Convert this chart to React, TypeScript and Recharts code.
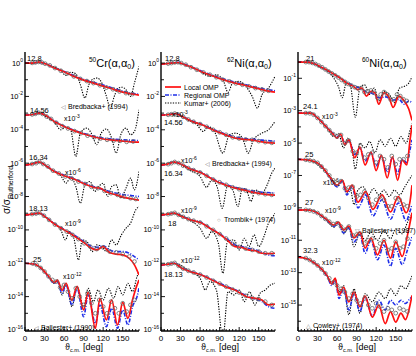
import React from "react";
import { ComposedChart, Line, Scatter, XAxis, YAxis } from "recharts";

const FONT = "'Liberation Sans', Arial, Helvetica, sans-serif";

// angle grid (deg) and decade ticks
const angleTicks = [0, 5, 10, 15, 20, 25, 30, 35, 40, 45, 50, 55, 60, 65, 70, 75, 80, 85, 90, 95, 100, 105, 110, 115, 120, 125, 130, 135, 140, 145, 150, 155, 160, 165, 170, 175];
const decadeTicks = [1e-16, 1e-15, 1e-14, 1e-13, 1e-12, 1e-11, 1e-10, 1e-9, 1e-8, 1e-7, 1e-6, 1e-5, 1e-4, 1e-3, 1e-2, 1e-1, 1];
// each energy is shifted down by these powers of ten
const scaleExponents = [0, -3, -6, -9, -12];

const crEnergies = ["12.8", "14.56", "16.34", "18.13", "25"];
const ni62Energies = ["12.8", "14.56", "16.34", "18", "18.13"];
const ni60Energies = ["21", "24.1", "25", "27", "32.3"];

// curves: [angle, log10(sigma/sigma_R)] before scaling
const crLocal = [
    [[0, 0], [10, 0], [22, 0.06], [32, -0.06], [45, -0.3], [60, -0.52], [75, -0.8], [90, -1.02], [105, -1.2], [120, -1.38], [135, -1.56], [150, -1.74], [162, -1.84], [175, -1.92]],
    [[0, -0.12], [10, -0.1], [22, 0], [32, -0.15], [45, -0.5], [60, -0.8], [75, -1.05], [90, -1.25], [105, -1.42], [120, -1.55], [135, -1.62], [150, -1.68], [162, -1.72], [175, -1.74]],
    [[0, -0.12], [10, -0.06], [22, 0.06], [32, -0.15], [45, -0.5], [60, -0.75], [75, -0.95], [90, -1.22], [105, -1.45], [115, -1.5], [125, -1.72], [140, -1.9], [155, -2.08], [165, -2.15], [175, -2.22]],
    [[0, -0.12], [10, -0.06], [22, 0], [32, -0.25], [45, -0.65], [60, -1.0], [75, -1.35], [90, -1.75], [100, -2.05], [110, -2.2], [120, -2.0], [130, -2.35], [140, -2.45], [150, -2.5], [160, -2.7], [168, -3.1], [175, -3.7]],
    [[0, 0], [15, -0.06], [25, -0.3], [35, -0.72], [45, -1.14], [50, -1.02], [57, -1.62], [63, -1.2], [72, -2.22], [80, -1.38], [90, -2.8], [97, -1.74], [108, -3.9], [115, -2.1], [125, -3.4], [133, -2.2], [142, -3.7], [150, -2.34], [158, -3.3], [165, -2.2], [172, -1.3], [175, -1.0]],
];
const crRegional = [
    [[0, 0], [10, 0], [22, 0.05], [32, -0.05], [45, -0.28], [60, -0.5], [75, -0.76], [90, -0.98], [105, -1.15], [120, -1.32], [135, -1.5], [150, -1.68], [162, -1.8], [175, -1.86]],
    [[0, -0.12], [10, -0.1], [22, 0], [32, -0.14], [45, -0.48], [60, -0.78], [75, -1.02], [90, -1.22], [105, -1.38], [120, -1.5], [135, -1.56], [150, -1.6], [162, -1.62], [175, -1.65]],
    [[0, -0.12], [10, -0.06], [22, 0.06], [32, -0.14], [45, -0.48], [60, -0.72], [75, -0.92], [90, -1.18], [105, -1.4], [120, -1.58], [135, -1.75], [150, -1.88], [165, -1.95], [175, -2.0]],
    [[0, -0.12], [10, -0.06], [22, 0], [32, -0.24], [45, -0.62], [60, -0.98], [75, -1.3], [90, -1.7], [100, -1.95], [110, -2.05], [120, -1.95], [130, -2.2], [140, -2.3], [150, -2.3], [160, -2.4], [168, -2.6], [175, -2.8]],
    [[0, 0], [15, -0.06], [25, -0.32], [35, -0.75], [45, -1.2], [50, -1.1], [57, -1.8], [63, -1.3], [72, -2.5], [80, -1.5], [90, -3.2], [97, -1.9], [108, -3.6], [115, -2.5], [125, -3.8], [133, -2.7], [142, -3.9], [150, -2.8], [158, -3.7], [165, -2.6], [172, -2.0], [175, -1.5]],
];
const crKumar = [
    [[0, 0], [10, 0], [22, 0.06], [35, -0.1], [45, -0.25], [55, -0.45], [63, -0.75], [70, -0.55], [78, -0.65], [85, -1.3], [92, -2.1], [98, -1.3], [105, -0.95], [111, -0.9], [118, -1.2], [125, -2.0], [131, -2.7], [137, -2.0], [143, -1.5], [149, -1.45], [155, -1.6], [162, -2.0], [168, -1.2], [175, -0.2]],
    [[0, -0.12], [22, 0], [35, -0.3], [45, -0.55], [55, -1.0], [62, -0.85], [70, -1.0], [78, -2.6], [85, -1.2], [95, -0.9], [103, -1.3], [110, -1.9], [117, -1.2], [125, -0.95], [133, -1.5], [140, -2.4], [147, -1.3], [155, -0.9], [162, -1.3], [168, -1.1], [175, 0.2]],
    [[0, -0.12], [22, 0.06], [40, -0.4], [55, -0.75], [63, -1.2], [70, -0.85], [78, -1.4], [85, -2.4], [92, -1.3], [100, -1.1], [107, -1.7], [113, -1.4], [120, -1.2], [127, -2.0], [133, -1.4], [140, -1.3], [147, -2.1], [155, -1.5], [162, -0.9], [168, -1.6], [175, -0.5]],
    [[0, -0.12], [22, 0], [40, -0.5], [55, -1.0], [62, -1.6], [68, -1.1], [75, -1.5], [82, -2.8], [88, -1.6], [95, -1.7], [103, -2.3], [110, -1.9], [118, -2.0], [125, -2.3], [133, -1.6], [140, -1.9], [148, -1.3], [155, -0.9], [162, -0.6], [170, 0.2], [175, 0.4]],
    [[0, 0], [15, -0.06], [25, -0.3], [35, -0.75], [45, -1.2], [50, -1.0], [57, -1.9], [63, -1.2], [72, -2.6], [80, -1.4], [90, -2.6], [97, -1.5], [105, -2.3], [112, -1.6], [120, -2.2], [128, -1.5], [136, -2.1], [143, -1.4], [150, -1.9], [158, -1.2], [165, -1.7], [172, -0.8], [175, -0.5]],
];
const crExp = [
    [[11, 0.01], [16, 0.04], [21, 0.07], [26, 0.03], [31, -0.04], [38, -0.14], [46, -0.3], [55, -0.46], [65, -0.62], [75, -0.8], [85, -0.95], [95, -1.08], [105, -1.2], [115, -1.33], [125, -1.47], [135, -1.57], [145, -1.7], [155, -1.8], [165, -1.86]],
    [[11, -0.08], [16, -0.04], [21, 0.02], [27, -0.05], [33, -0.2], [40, -0.35], [48, -0.58], [57, -0.78], [66, -0.92], [76, -1.08], [86, -1.2], [96, -1.35], [106, -1.45], [116, -1.52], [126, -1.6], [136, -1.65], [146, -1.66], [156, -1.72], [166, -1.7]],
    [[11, -0.05], [17, 0.0], [22, 0.08], [28, -0.05], [35, -0.2], [43, -0.45], [52, -0.62], [62, -0.8], [72, -0.92], [82, -1.1], [92, -1.25], [102, -1.42], [112, -1.5], [122, -1.66], [132, -1.8], [142, -1.9], [152, -2.0], [162, -2.1], [170, -2.15]],
    [[11, -0.05], [17, -0.02], [22, 0.02], [29, -0.15], [37, -0.4], [46, -0.68], [55, -0.9], [64, -1.1], [73, -1.3], [82, -1.55], [91, -1.8], [100, -2.0], [110, -2.15], [120, -2.05], [130, -2.3], [140, -2.35], [150, -2.45], [160, -2.6], [168, -2.9]],
    [[12, -0.02], [18, -0.1], [24, -0.28], [30, -0.5], [36, -0.78], [42, -1.0], [48, -1.1], [54, -1.45], [60, -1.3], [66, -1.7], [72, -2.1], [78, -1.5], [84, -2.0], [90, -2.5], [96, -1.8], [102, -2.4], [108, -3.0], [114, -2.2], [120, -2.6], [126, -3.0], [132, -2.3], [138, -2.7], [144, -3.0], [150, -2.4], [156, -2.9], [162, -2.5], [168, -2.2]],
];

const ni62Local = [
    [[0, -0.06], [10, -0.03], [26, 0.03], [40, -0.15], [50, -0.3], [63, -0.54], [75, -0.72], [88, -0.9], [100, -1.05], [114, -1.2], [128, -1.33], [140, -1.44], [152, -1.56], [165, -1.68], [175, -1.74]],
    [[0, -0.12], [10, -0.1], [22, -0.04], [35, -0.25], [48, -0.5], [63, -0.7], [75, -0.92], [88, -1.14], [100, -1.32], [114, -1.5], [128, -1.57], [140, -1.62], [155, -1.72], [175, -1.8]],
    [[0, -0.12], [10, -0.06], [20, 0.06], [30, -0.05], [45, -0.35], [63, -0.6], [75, -0.88], [88, -1.14], [100, -1.32], [114, -1.5], [128, -1.62], [140, -1.74], [155, -1.84], [175, -1.92]],
    [[0, -0.12], [10, -0.06], [20, 0], [32, -0.2], [45, -0.4], [63, -0.6], [75, -0.9], [88, -1.2], [100, -1.55], [114, -2.0], [124, -2.05], [134, -2.2], [145, -2.25], [155, -2.4], [165, -2.42], [175, -2.4]],
    [[0, -0.12], [10, -0.06], [20, 0], [32, -0.3], [45, -0.5], [63, -0.72], [75, -0.95], [88, -1.2], [100, -1.42], [114, -1.62], [124, -1.85], [134, -2.04], [145, -2.1], [155, -2.2], [165, -2.5], [175, -2.45]],
];
const ni62Regional = [
    [[0, -0.06], [10, -0.03], [26, 0.04], [40, -0.13], [50, -0.28], [63, -0.5], [75, -0.68], [88, -0.86], [100, -1.0], [114, -1.15], [128, -1.28], [140, -1.4], [152, -1.5], [165, -1.6], [175, -1.66]],
    [[0, -0.12], [10, -0.1], [22, -0.03], [35, -0.23], [48, -0.47], [63, -0.68], [75, -0.9], [88, -1.1], [100, -1.28], [114, -1.44], [128, -1.52], [140, -1.56], [155, -1.62], [175, -1.68]],
    [[0, -0.12], [10, -0.06], [20, 0.07], [30, -0.04], [45, -0.33], [63, -0.58], [75, -0.85], [88, -1.1], [100, -1.28], [114, -1.45], [128, -1.56], [140, -1.66], [155, -1.74], [175, -1.78]],
    [[0, -0.12], [10, -0.06], [20, 0.01], [32, -0.18], [45, -0.38], [63, -0.58], [75, -0.88], [88, -1.18], [100, -1.5], [114, -1.9], [124, -2.0], [134, -2.1], [145, -2.2], [155, -2.35], [165, -2.5], [175, -2.55]],
    [[0, -0.12], [10, -0.06], [20, 0.01], [32, -0.28], [45, -0.48], [63, -0.7], [75, -0.92], [88, -1.16], [100, -1.38], [114, -1.58], [124, -1.8], [134, -2.0], [145, -2.15], [155, -2.3], [165, -2.6], [175, -2.7]],
];
const ni62Kumar = [
    [[0, -0.06], [26, 0.03], [45, -0.25], [60, -0.5], [75, -0.8], [85, -0.7], [95, -1.0], [103, -1.75], [110, -1.2], [120, -1.1], [130, -1.4], [140, -2.0], [148, -2.7], [155, -1.9], [165, -1.5], [175, -0.8]],
    [[0, -0.12], [22, -0.04], [40, -0.4], [55, -0.7], [65, -1.1], [72, -0.8], [82, -1.1], [95, -2.4], [105, -1.3], [115, -1.2], [125, -1.5], [134, -2.4], [142, -1.6], [155, -1.2], [165, -1.0], [175, -0.5]],
    [[0, -0.12], [20, 0.06], [45, -0.45], [60, -0.8], [70, -1.45], [78, -1.0], [86, -1.4], [94, -2.7], [102, -1.4], [110, -1.6], [118, -2.6], [125, -1.5], [132, -1.7], [138, -2.3], [145, -1.6], [155, -1.8], [163, -1.3], [170, -0.6], [175, -0.3]],
    [[0, -0.12], [20, 0], [45, -0.45], [60, -0.9], [70, -1.5], [78, -1.1], [88, -1.8], [95, -3.6], [102, -1.7], [112, -1.6], [120, -2.2], [128, -1.5], [135, -2.0], [143, -1.3], [150, -2.0], [158, -1.4], [165, -0.6], [172, -0.2], [175, 0]],
    [[0, -0.12], [20, 0], [45, -0.5], [60, -0.9], [68, -1.6], [75, -1.1], [85, -1.6], [95, -4.5], [103, -1.7], [112, -1.9], [120, -1.6], [128, -2.3], [136, -1.7], [144, -2.5], [152, -1.8], [160, -1.6], [168, -1.3], [175, -1.2]],
];
const ni62Exp = [
    [[11, -0.03], [16, 0.0], [21, 0.04], [26, 0.05], [31, 0.0], [38, -0.1], [46, -0.25], [55, -0.4], [65, -0.56], [75, -0.7], [85, -0.85], [95, -1.0], [105, -1.1], [115, -1.22], [125, -1.3], [135, -1.4], [145, -1.5], [155, -1.58], [165, -1.66]],
    [[11, -0.1], [16, -0.07], [21, -0.03], [27, -0.1], [34, -0.22], [42, -0.38], [50, -0.52], [60, -0.66], [70, -0.82], [80, -1.0], [90, -1.15], [100, -1.3], [110, -1.45], [120, -1.52], [130, -1.58], [140, -1.6], [150, -1.68], [160, -1.74], [170, -1.78]],
    [[11, -0.06], [16, 0.0], [21, 0.07], [27, 0.0], [34, -0.15], [42, -0.3], [50, -0.42], [60, -0.56], [70, -0.76], [80, -0.98], [90, -1.15], [100, -1.3], [110, -1.45], [120, -1.56], [130, -1.64], [140, -1.72], [150, -1.8], [160, -1.86], [170, -1.9]],
    [[11, -0.06], [16, -0.02], [21, 0.02], [27, -0.1], [34, -0.22], [42, -0.35], [50, -0.45], [60, -0.56], [70, -0.78], [80, -1.0], [90, -1.25], [100, -1.52], [110, -1.85], [120, -2.02], [130, -2.12], [140, -2.2], [150, -2.3], [160, -2.4], [170, -2.4]],
    [[11, -0.06], [16, -0.02], [21, 0.02], [27, -0.15], [34, -0.32], [42, -0.45], [50, -0.55], [60, -0.68], [70, -0.85], [80, -1.05], [90, -1.22], [100, -1.4], [110, -1.58], [120, -1.75], [130, -1.95], [140, -2.08], [150, -2.15], [160, -2.3], [170, -2.5]],
];

const ni60Local = [
    [[0, 0], [15, 0], [25, -0.1], [35, -0.3], [45, -0.5], [55, -0.75], [65, -1.0], [75, -1.3], [85, -1.5], [92, -1.7], [98, -1.6], [105, -2.1], [112, -1.8], [118, -1.9], [124, -2.6], [132, -1.9], [140, -2.2], [146, -2.8], [155, -2.1], [163, -2.4], [170, -2.9], [175, -3.6]],
    [[0, -0.15], [20, -0.15], [30, -0.45], [45, -1.07], [55, -1.5], [60, -1.7], [65, -1.44], [72, -2.1], [78, -1.8], [87, -2.9], [95, -2.25], [103, -3.35], [112, -2.55], [120, -3.7], [128, -2.75], [137, -4.15], [145, -2.85], [153, -4.3], [160, -3.05], [167, -3.35], [172, -1.8], [175, -0.9]],
    [[0, 0], [12, -0.03], [22, -0.1], [31, -0.25], [40, -0.6], [49, -1.1], [60, -1.6], [68, -1.28], [75, -2.0], [83, -1.6], [92, -2.65], [104, -2.0], [115, -3.1], [129, -2.2], [142, -3.25], [154, -2.3], [166, -3.3], [172, -2.6], [175, -1.6]],
    [[0, -0.14], [12, -0.12], [22, -0.18], [30, -0.32], [45, -0.75], [55, -1.06], [62, -0.88], [70, -1.37], [78, -1.12], [86, -1.86], [95, -1.5], [103, -2.48], [112, -1.86], [122, -2.9], [132, -2.0], [142, -3.1], [150, -2.1], [160, -3.0], [168, -1.7], [175, -0.3]],
    [[0, -0.04], [15, -0.16], [25, -0.4], [35, -0.72], [45, -1.2], [52, -1.7], [57, -1.33], [63, -2.38], [70, -1.9], [78, -2.8], [86, -2.2], [95, -3.1], [103, -2.45], [114, -3.75], [124, -3.0], [134, -4.15], [142, -3.4], [150, -4.05], [158, -3.5], [165, -3.9], [172, -3.0], [175, -2.4]],
];
const ni60Regional = [
    [[0, 0], [15, 0], [25, -0.1], [35, -0.3], [45, -0.52], [55, -0.75], [65, -1.0], [75, -1.25], [85, -1.45], [95, -1.6], [105, -1.85], [115, -1.95], [125, -2.2], [135, -2.15], [145, -2.35], [155, -2.3], [163, -2.6], [170, -2.4], [175, -2.5]],
    [[0, -0.15], [20, -0.15], [30, -0.45], [45, -1.05], [55, -1.45], [60, -1.6], [65, -1.5], [72, -2.0], [78, -1.85], [87, -2.7], [95, -2.3], [103, -3.1], [112, -2.6], [120, -3.4], [128, -2.8], [137, -3.8], [145, -2.9], [153, -3.9], [160, -3.0], [167, -3.2], [172, -2.4], [175, -1.8]],
    [[0, 0], [12, -0.03], [22, -0.1], [31, -0.25], [40, -0.62], [49, -1.15], [60, -1.7], [68, -1.35], [75, -2.2], [83, -1.7], [92, -3.0], [104, -2.2], [115, -3.5], [129, -2.5], [142, -3.7], [154, -2.7], [166, -3.8], [172, -3.2], [175, -2.8]],
    [[0, -0.14], [12, -0.12], [22, -0.18], [30, -0.33], [45, -0.8], [55, -1.15], [62, -0.95], [70, -1.55], [78, -1.25], [86, -2.1], [95, -1.65], [103, -2.8], [112, -2.0], [122, -3.2], [132, -2.3], [142, -3.6], [150, -2.5], [160, -3.5], [168, -2.6], [175, -1.8]],
    [[0, -0.04], [15, -0.16], [25, -0.4], [35, -0.74], [45, -1.25], [52, -1.8], [57, -1.4], [63, -2.6], [70, -2.0], [78, -3.3], [86, -2.3], [95, -3.4], [103, -2.5], [114, -3.7], [124, -2.7], [134, -3.3], [142, -2.7], [150, -3.0], [158, -2.7], [165, -2.9], [172, -2.6], [175, -2.5]],
];
const ni60Kumar = [
    [[0, 0], [20, 0], [35, -0.35], [45, -0.55], [55, -1.0], [62, -1.5], [68, -2.2], [74, -1.3], [80, -1.4], [88, -3.4], [95, -1.6], [102, -1.4], [110, -2.0], [117, -1.6], [124, -2.4], [132, -1.8], [140, -2.0], [148, -2.5], [156, -1.6], [163, -1.5], [170, -1.3], [175, -0.9]],
    [[0, -0.15], [20, -0.15], [30, -0.45], [45, -1.1], [55, -1.6], [62, -1.4], [70, -2.3], [76, -1.7], [82, -2.1], [88, -3.6], [95, -2.0], [103, -2.3], [110, -1.9], [118, -2.6], [126, -1.8], [134, -2.2], [142, -1.7], [150, -2.2], [158, -1.6], [166, -2.0], [172, -1.2], [175, -0.8]],
    [[0, 0], [20, -0.1], [35, -0.5], [50, -1.1], [60, -1.7], [68, -1.3], [75, -2.1], [80, -1.8], [86, -2.8], [92, -1.9], [100, -1.7], [108, -2.2], [116, -1.8], [124, -2.2], [132, -1.9], [140, -2.3], [148, -1.9], [156, -2.2], [164, -1.7], [170, -1.3], [175, -1.0]],
    [[0, -0.14], [20, -0.14], [30, -0.32], [45, -0.8], [55, -1.2], [62, -0.95], [70, -1.6], [78, -1.2], [86, -2.4], [95, -1.5], [103, -2.0], [112, -1.5], [122, -2.0], [132, -1.4], [142, -1.9], [150, -1.3], [160, -1.6], [168, -0.9], [175, -0.4]],
    [[0, -0.04], [15, -0.16], [25, -0.4], [35, -0.75], [45, -1.25], [52, -1.6], [57, -1.4], [63, -2.2], [70, -1.8], [78, -3.6], [86, -2.0], [95, -3.5], [103, -2.3], [114, -2.8], [124, -2.2], [134, -2.6], [142, -2.0], [150, -2.4], [158, -1.8], [165, -2.0], [172, -1.5], [175, -1.2]],
];
const ni60Exp = [
    [[12, 0.0], [17, 0.0], [22, -0.05], [27, -0.12], [32, -0.22], [37, -0.32], [42, -0.45], [47, -0.58], [52, -0.7], [57, -0.82], [62, -0.95], [67, -1.1], [72, -1.22], [77, -1.35], [82, -1.45], [87, -1.55], [92, -1.62], [97, -1.6], [102, -1.85], [107, -1.8], [112, -1.75], [117, -1.9], [122, -2.2], [127, -2.0], [132, -1.85], [137, -2.0], [142, -2.3], [147, -2.3], [152, -2.0], [157, -2.1], [162, -2.3], [167, -2.4]],
    [[12, -0.15], [18, -0.16], [24, -0.25], [30, -0.45], [36, -0.7], [42, -0.95], [48, -1.2], [54, -1.45], [60, -1.6], [66, -1.5], [72, -2.0], [78, -1.85], [84, -2.5], [90, -2.6], [96, -2.2], [102, -2.9], [108, -2.7], [114, -2.6], [120, -3.2], [126, -2.8], [132, -3.0], [138, -3.5], [144, -2.8], [150, -3.3], [156, -3.0], [162, -3.0], [168, -2.8]],
    [[12, -0.03], [18, -0.07], [24, -0.12], [30, -0.22], [36, -0.45], [42, -0.7], [48, -1.0], [54, -1.3], [60, -1.5], [66, -1.35], [72, -1.8], [78, -1.75], [84, -1.7], [90, -2.3], [96, -2.2], [102, -2.0], [108, -2.4], [114, -2.8], [120, -2.5], [126, -2.3], [132, -2.5], [138, -2.9], [144, -2.9], [150, -2.4], [156, -2.5], [162, -2.8], [168, -2.9]],
    [[12, -0.12], [18, -0.16], [24, -0.22], [30, -0.32], [36, -0.5], [42, -0.68], [48, -0.85], [54, -1.0], [60, -0.95], [66, -1.15], [72, -1.35], [78, -1.15], [84, -1.7], [90, -1.65], [96, -1.6], [102, -2.2], [108, -2.0], [114, -1.9], [120, -2.5], [126, -2.2], [132, -2.0], [138, -2.6], [144, -2.5], [150, -2.1], [156, -2.5], [162, -2.4], [168, -1.9]],
    [[12, -0.1], [18, -0.22], [24, -0.36], [30, -0.55], [36, -0.78], [42, -1.05], [48, -1.35], [54, -1.6], [60, -1.8], [66, -2.0], [72, -2.2], [78, -2.6], [84, -2.3], [90, -2.7], [96, -2.9], [102, -2.6], [108, -3.0], [114, -3.2], [120, -2.9], [126, -3.1], [132, -3.4], [138, -3.2], [144, -3.3], [150, -3.5], [156, -3.2], [162, -3.3], [168, -3.4]],
];

const RED = "#ff1010";
const BLUE = "#1f2fe8";

function toPoints(curve: number[][], k: number) {
    return curve.map(([a, l]) => ({ x: a, y: Math.pow(10, l + scaleExponents[k]) }));
}

const expDot = (p: any) => (
    <circle cx={p.cx} cy={p.cy} r={1.9} fill="none" stroke="#666" strokeWidth={0.8} />
);

interface PanelProps {
    left: number;
    domain: [number, number];
    oddLabels: boolean;
    local: number[][][];
    regional: number[][][];
    kumar: number[][][];
    exp: number[][][];
}

function Panel({ left, domain, oddLabels, local, regional, kumar, exp }: PanelProps) {
    const bottomTick = (p: any) => {
        const v = p.payload.value;
        const major = v % 30 === 0;
        return (
            <g>
                <line x1={p.x} x2={p.x} y1={p.y} y2={p.y - (major ? 4 : 2)} stroke="#000" strokeWidth={0.9} />
                {major && (
                    <text x={p.x} y={p.y + 10} textAnchor="middle" fontSize={8} fontFamily={FONT} fill="#000">
                        {v}
                    </text>
                )}
            </g>
        );
    };
    const topTick = (p: any) => {
        const major = p.payload.value % 30 === 0;
        return <line x1={p.x} x2={p.x} y1={p.y} y2={p.y + (major ? 4 : 2)} stroke="#000" strokeWidth={0.9} />;
    };
    const leftTick = (p: any) => {
        const e = Math.round(Math.log10(p.payload.value));
        const labeled = oddLabels ? Math.abs(e) % 2 === 1 : e % 2 === 0;
        return (
            <g>
                <line x1={p.x} x2={p.x + (labeled ? 4 : 3)} y1={p.y} y2={p.y} stroke="#000" strokeWidth={0.9} />
                {labeled && (
                    <text x={p.x - 2} y={p.y + 2.5} textAnchor="end" fontFamily={FONT} fill="#000">
                        <tspan fontSize={7.5}>10</tspan>
                        <tspan fontSize={5} dy={-3.5}>{e}</tspan>
                    </text>
                )}
            </g>
        );
    };
    const rightTick = (p: any) => (
        <line x1={p.x} x2={p.x - 3} y1={p.y} y2={p.y} stroke="#000" strokeWidth={0.9} />
    );

    return (
        <div style={{ position: "absolute", left, top: 0 }}>
            <ComposedChart width={145} height={356} margin={{ top: 52, right: 6, bottom: 0, left: 0 }}>
                <XAxis
                    dataKey="x"
                    type="number"
                    domain={[0, 175]}
                    ticks={angleTicks}
                    interval={0}
                    allowDataOverflow
                    height={25}
                    tickSize={0}
                    tickMargin={0}
                    tickLine={false}
                    axisLine={{ stroke: "#000", strokeWidth: 1.4 }}
                    tick={bottomTick}
                />
                <XAxis
                    xAxisId="top"
                    orientation="top"
                    dataKey="x"
                    type="number"
                    domain={[0, 175]}
                    ticks={angleTicks}
                    interval={0}
                    allowDataOverflow
                    height={0}
                    tickSize={0}
                    tickMargin={0}
                    tickLine={false}
                    axisLine={{ stroke: "#000", strokeWidth: 1.4 }}
                    tick={topTick}
                />
                <YAxis
                    dataKey="y"
                    scale="log"
                    type="number"
                    domain={domain}
                    ticks={decadeTicks}
                    interval={0}
                    allowDataOverflow
                    width={25}
                    tickSize={0}
                    tickMargin={0}
                    tickLine={false}
                    axisLine={{ stroke: "#000", strokeWidth: 1.4 }}
                    tick={leftTick}
                />
                <YAxis
                    yAxisId="right"
                    orientation="right"
                    scale="log"
                    type="number"
                    domain={domain}
                    ticks={decadeTicks}
                    interval={0}
                    allowDataOverflow
                    width={0}
                    tickSize={0}
                    tickMargin={0}
                    tickLine={false}
                    axisLine={{ stroke: "#000", strokeWidth: 1.4 }}
                    tick={rightTick}
                />
                {exp.map((c, k) => (
                    <Scatter key={`e${k}`} data={toPoints(c, k)} dataKey="y" shape={expDot} isAnimationActive={false} />
                ))}
                {kumar.map((c, k) => (
                    <Line key={`k${k}`} data={toPoints(c, k)} dataKey="y" type="monotone" stroke="#000" strokeWidth={1.1} strokeDasharray="1.3 1.3" dot={false} isAnimationActive={false} />
                ))}
                {regional.map((c, k) => (
                    <Line key={`r${k}`} data={toPoints(c, k)} dataKey="y" type="monotone" stroke={BLUE} strokeWidth={1.6} strokeDasharray="4 1.5 1 1.5" dot={false} isAnimationActive={false} />
                ))}
                {local.map((c, k) => (
                    <Line key={`l${k}`} data={toPoints(c, k)} dataKey="y" type="monotone" stroke={RED} strokeWidth={1.7} dot={false} isAnimationActive={false} />
                ))}
            </ComposedChart>
        </div>
    );
}

function Scale({ x, y, k }: { x: number; y: number; k: number }) {
    return (
        <text x={x} y={y} fontFamily={FONT} fill="#000">
            <tspan fontSize={7}>x10</tspan>
            <tspan fontSize={5} dy={-3.5}>{scaleExponents[k]}</tspan>
        </text>
    );
}

function Title({ x, y, mass, el }: { x: number; y: number; mass: string; el: string }) {
    return (
        <text x={x} y={y} fontFamily={FONT} fill="#000">
            <tspan fontSize={6.5} dy={-5}>{mass}</tspan>
            <tspan fontSize={11} dy={5}>{el}(α,α</tspan>
            <tspan fontSize={7} dy={2}>0</tspan>
            <tspan fontSize={11} dy={-2}>)</tspan>
        </text>
    );
}

function DataLabel({ x, y, mark, text }: { x: number; y: number; mark: string; text: string }) {
    return (
        <g fontFamily={FONT}>
            <text x={x - 7} y={y} fontSize={6} fill="#777">{mark}</text>
            <text x={x} y={y} fontSize={7} fill="#000">{text}</text>
        </g>
    );
}

function AxisTitle({ cx }: { cx: number }) {
    return (
        <text x={cx} y={350} textAnchor="middle" fontFamily={FONT} fill="#000">
            <tspan fontSize={9}>ϑ</tspan>
            <tspan fontSize={5.5} dy={2}>c.m.</tspan>
            <tspan fontSize={9} dy={-2}> [deg]</tspan>
        </text>
    );
}

export default function App() {
    return (
        <div style={{ position: "fixed", left: 0, top: 0, width: 416, height: 356, background: "#fff", overflow: "hidden" }}>
            <Panel left={0} domain={[8.7e-17, 4.6]} oddLabels={false} local={crLocal} regional={crRegional} kumar={crKumar} exp={crExp} />
            <Panel left={136} domain={[8.7e-17, 4.6]} oddLabels={false} local={ni62Local} regional={ni62Regional} kumar={ni62Kumar} exp={ni62Exp} />
            <Panel left={273} domain={[2.5e-17, 4.2]} oddLabels={true} local={ni60Local} regional={ni60Regional} kumar={ni60Kumar} exp={ni60Exp} />
            <svg width={416} height={356} style={{ position: "absolute", left: 0, top: 0, pointerEvents: "none" }}>
                <text transform="translate(10,190) rotate(-90)" textAnchor="middle" fontFamily={FONT} fill="#000">
                    <tspan fontSize={10}>σ/σ</tspan>
                    <tspan fontSize={7} dy={3}>Rutherford</tspan>
                </text>

                <Title x={89} y={67} mass="50" el="Cr" />
                <Title x={227} y={67} mass="62" el="Ni" />
                <Title x={362} y={67} mass="60" el="Ni" />

                <g fontFamily={FONT} fontSize={7.5} fill="#000">
                    <text x={27} y={61}>{crEnergies[0]}</text>
                    <text x={30} y={113}>{crEnergies[1]}</text>
                    <text x={29} y={160}>{crEnergies[2]}</text>
                    <text x={29} y={211}>{crEnergies[3]}</text>
                    <text x={33} y={262}>{crEnergies[4]}</text>
                    <text x={165} y={61}>{ni62Energies[0]}</text>
                    <text x={164} y={125}>{ni62Energies[1]}</text>
                    <text x={164} y={176}>{ni62Energies[2]}</text>
                    <text x={168} y={226}>{ni62Energies[3]}</text>
                    <text x={164} y={277}>{ni62Energies[4]}</text>
                    <text x={306} y={61}>{ni60Energies[0]}</text>
                    <text x={303} y={109}>{ni60Energies[1]}</text>
                    <text x={305} y={157}>{ni60Energies[2]}</text>
                    <text x={305} y={205}>{ni60Energies[3]}</text>
                    <text x={303} y={253}>{ni60Energies[4]}</text>
                </g>

                <Scale x={64} y={121} k={1} />
                <Scale x={65} y={175} k={2} />
                <Scale x={65} y={226} k={3} />
                <Scale x={63} y={279} k={4} />
                <Scale x={172} y={117} k={1} />
                <Scale x={181} y={163} k={2} />
                <Scale x={181} y={213} k={3} />
                <Scale x={181} y={263} k={4} />
                <Scale x={322} y={119} k={1} />
                <Scale x={323} y={185} k={2} />
                <Scale x={325} y={213} k={3} />
                <Scale x={322} y={265} k={4} />

                <DataLabel x={68} y={109} mark="◁" text="Bredbacka+ (1994)" />
                <DataLabel x={41} y={330} mark="◁" text="Ballester+ (1990)" />
                <DataLabel x={212} y={166} mark="◁" text="Bredbacka+ (1994)" />
                <DataLabel x={224} y={222} mark="○" text="Trombik+ (1974)" />
                <DataLabel x={362} y={233} mark="▽" text="Ballester+ (1987)" />
                <DataLabel x={313} y={328} mark="△" text="Cowley+ (1974)" />

                <g fontFamily={FONT} fontSize={7} fill="#000">
                    <line x1={165} x2={181} y1={87} y2={87} stroke={RED} strokeWidth={1.7} />
                    <text x={184} y={89.5}>Local OMP</text>
                    <line x1={165} x2={181} y1={95} y2={95} stroke={BLUE} strokeWidth={1.6} strokeDasharray="4 1.5 1 1.5" />
                    <text x={184} y={97.5}>Regional OMP</text>
                    <line x1={165} x2={181} y1={103} y2={103} stroke="#000" strokeWidth={1.1} strokeDasharray="1.3 1.3" />
                    <text x={184} y={105.5}>Kumar+ (2006)</text>
                </g>

                <AxisTitle cx={84} />
                <AxisTitle cx={220} />
                <AxisTitle cx={357} />
            </svg>
        </div>
    );
}
